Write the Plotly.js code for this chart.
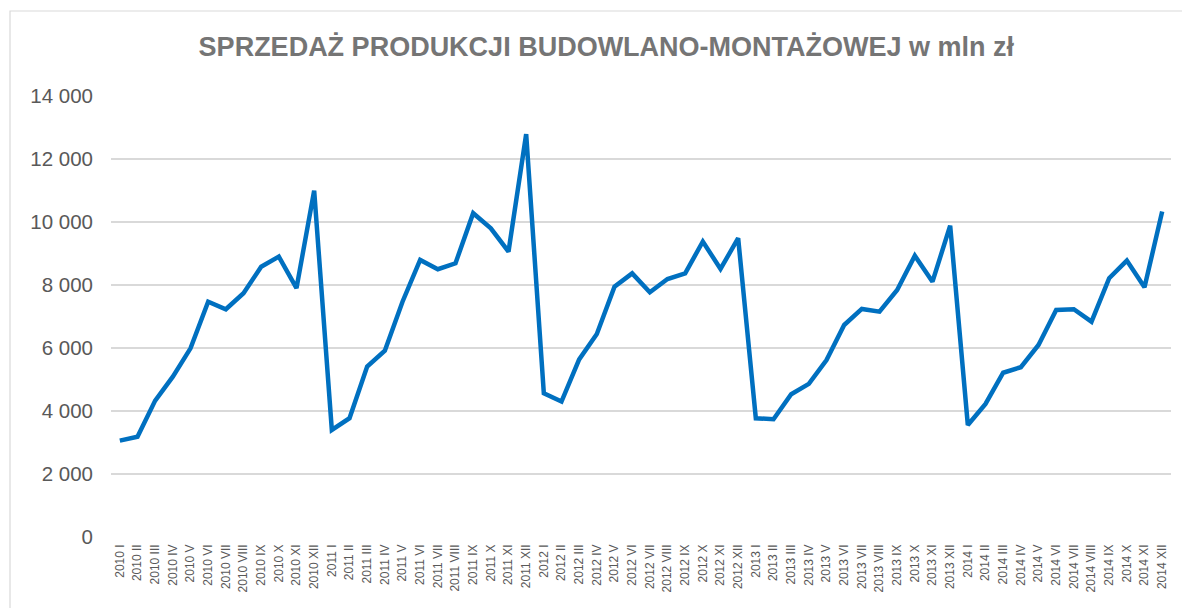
<!DOCTYPE html>
<html>
<head>
<meta charset="utf-8">
<script src="https://cdn.plot.ly/plotly-3.0.1.min.js"></script>
<style>html,body{margin:0;padding:0;background:#fff;}#chart{width:1182px;height:608px;}</style>
</head>
<body>
<div id="chart"></div>
<script>
const years = ["2010", "2011", "2012", "2013", "2014"];
const months = ["I", "II", "III", "IV", "V", "VI", "VII", "VIII", "IX", "X", "XI", "XII"];
const categories = [];
years.forEach(y => months.forEach(m => categories.push(y + " " + m)));

const sales = [
  3060, 3185, 4330, 5090, 5990, 7470, 7230, 7740, 8580, 8900, 7900, 10995,
  3400, 3770, 5410, 5915, 7470, 8795, 8500, 8690, 10280, 9800, 9060, 12790,
  4560, 4300, 5640, 6445, 7945, 8370, 7770, 8190, 8370, 9380, 8510, 9485,
  3770, 3740, 4530, 4860, 5620, 6730, 7240, 7155, 7840, 8930, 8105, 9885,
  3555, 4225, 5215, 5390, 6095, 7205, 7230, 6835, 8215, 8775, 7930, 10330
];

const titleText = "SPRZEDAŻ PRODUKCJI BUDOWLANO-MONTAŻOWEJ w mln zł";
const font = "Liberation Sans, Arial, sans-serif";
const grey = "#595959";

const trace = {
  type: "scatter",
  mode: "lines",
  x: categories,
  y: sales,
  line: {color: "#0070c0", width: 4.5, shape: "linear"},
  hoverinfo: "x+y"
};

const layout = {
  width: 1182,
  height: 608,
  margin: {l: 111, r: 11, t: 96, b: 71},
  paper_bgcolor: "#ffffff",
  plot_bgcolor: "#ffffff",
  separators: ", ",
  showlegend: false,
  title: {
    text: "<b>" + titleText + "</b>",
    font: {family: font, size: 27, color: "#757575"},
    x: 0.513, xanchor: "center",
    y: 0.923, yanchor: "middle"
  },
  xaxis: {
    type: "category",
    range: [-0.5, categories.length - 0.5],
    tickangle: -90,
    tickfont: {family: font, size: 12, color: grey},
    showgrid: false,
    showline: false,
    zeroline: false,
    ticks: "",
    ticklabelstandoff: 4
  },
  yaxis: {
    range: [0, 14000],
    tickvals: [0, 2000, 4000, 6000, 8000, 10000, 12000, 14000],
    tickformat: ",d",
    tickfont: {family: font, size: 20.5, color: grey},
    showgrid: true,
    gridcolor: "#d9d9d9",
    gridwidth: 1.5,
    zeroline: false,
    showline: false,
    ticks: "",
    ticklabelstandoff: 17
  },
  shapes: [{
    type: "rect", xref: "paper", yref: "paper",
    x0: (10 - 111) / 1060, x1: (1200 - 111) / 1060,
    y0: (537 - 630) / 441, y1: (537 - 11) / 441,
    line: {color: "#d9d9d9", width: 1.2},
    fillcolor: "rgba(0,0,0,0)",
    layer: "below"
  }]
};

Plotly.newPlot("chart", [trace], layout, {displayModeBar: false, staticPlot: true});
</script>
</body>
</html>
